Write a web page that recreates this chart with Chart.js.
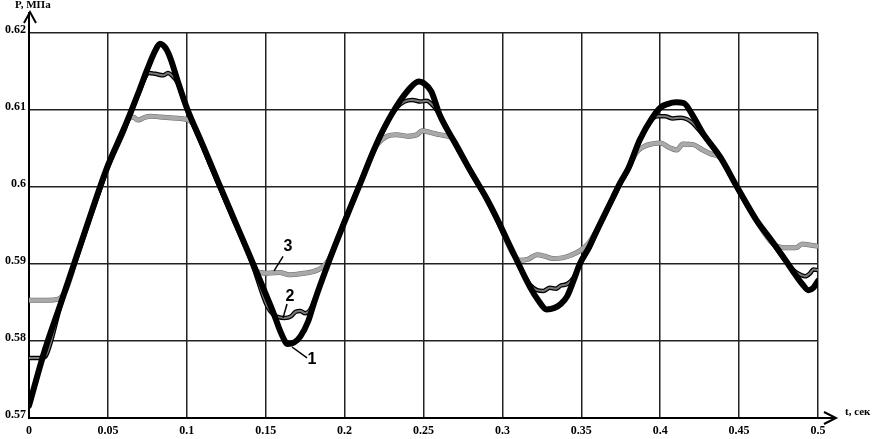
<!DOCTYPE html>
<html>
<head>
<meta charset="utf-8">
<script src="https://cdn.jsdelivr.net/npm/chart.js@4/dist/chart.umd.min.js"></script>
<style>
  body { margin: 0; background: #fff; }
  canvas { display: block; }
</style>
</head>
<body>
<canvas id="pressureChart" width="874" height="439"></canvas>
<script>
// curve 1 (thick black)
const t1 = [0,0.01,0.02,0.03,0.04,0.05,0.06,0.065,0.07,0.075,0.08,0.083,0.087,0.09,0.094,0.1,0.11,0.12,0.13,0.14,0.15,0.155,0.16,0.164,0.168,0.172,0.177,0.181,0.19,0.2,0.21,0.22,0.23,0.24,0.247,0.25,0.255,0.26,0.27,0.28,0.29,0.297,0.307,0.3175,0.323,0.328,0.333,0.337,0.341,0.345,0.349,0.355,0.36,0.37,0.3745,0.38,0.387,0.395,0.4,0.405,0.41,0.415,0.42,0.427,0.438,0.449,0.461,0.47,0.478,0.485,0.49,0.494,0.497,0.5];
const p1 = [0.5716,0.5788,0.5848,0.5909,0.5970,0.6028,0.6075,0.6100,0.6126,0.6153,0.6177,0.6186,0.6179,0.6165,0.6139,0.6103,0.6055,0.6006,0.5958,0.5910,0.5861,0.5836,0.5809,0.5796,0.5798,0.5806,0.5826,0.5852,0.5903,0.5955,0.6005,0.6055,0.6095,0.6125,0.6137,0.6135,0.6124,0.6095,0.6057,0.6020,0.5985,0.5957,0.5914,0.5870,0.5852,0.5841,0.5843,0.5848,0.5858,0.5878,0.5900,0.5922,0.5944,0.5986,0.6005,0.6025,0.6061,0.6090,0.6103,0.6108,0.6110,0.6109,0.6095,0.6070,0.6039,0.5999,0.5957,0.5932,0.5909,0.5888,0.5874,0.5866,0.5869,0.5878];

// curve 2 (dark grey)
const t2 = [0,0.008,0.011,0.02,0.03,0.04,0.05,0.06,0.065,0.07,0.073,0.076,0.08,0.085,0.088,0.091,0.094,0.1,0.11,0.12,0.13,0.14,0.151,0.155,0.158,0.162,0.166,0.169,0.172,0.175,0.178,0.181,0.19,0.2,0.21,0.22,0.228,0.233,0.238,0.243,0.248,0.252,0.255,0.259,0.27,0.28,0.29,0.297,0.307,0.314,0.318,0.322,0.326,0.33,0.334,0.337,0.341,0.345,0.349,0.355,0.36,0.37,0.3745,0.38,0.387,0.395,0.398,0.403,0.408,0.413,0.417,0.42,0.427,0.438,0.449,0.461,0.47,0.478,0.485,0.489,0.492,0.495,0.497,0.5];
const p2 = [0.5778,0.5778,0.5782,0.5846,0.5907,0.5968,0.6026,0.6073,0.6098,0.6124,0.6140,0.6148,0.6147,0.6145,0.6148,0.6144,0.6136,0.6101,0.6053,0.6004,0.5956,0.5909,0.5845,0.5834,0.5831,0.5830,0.5832,0.5838,0.5839,0.5836,0.5840,0.5853,0.5904,0.5956,0.6006,0.6054,0.6088,0.6103,0.6111,0.6113,0.6111,0.6112,0.6108,0.6098,0.6056,0.6019,0.5984,0.5956,0.5913,0.5885,0.5872,0.5866,0.5865,0.5869,0.5868,0.5872,0.5874,0.5882,0.5899,0.5921,0.5943,0.5985,0.6004,0.6024,0.6060,0.6088,0.6092,0.6092,0.6089,0.6090,0.6088,0.6084,0.6068,0.6038,0.5998,0.5956,0.5931,0.5908,0.5891,0.5886,0.5884,0.5888,0.5893,0.5892];

// curve 3 (light grey)
const t3 = [0,0.012,0.018,0.023,0.03,0.04,0.05,0.06,0.063,0.066,0.069,0.073,0.077,0.083,0.089,0.096,0.101,0.104,0.11,0.12,0.13,0.14,0.143,0.147,0.151,0.159,0.165,0.174,0.18,0.186,0.19,0.2,0.21,0.22,0.227,0.233,0.2395,0.246,0.249,0.254,0.26,0.265,0.268,0.275,0.28,0.29,0.297,0.303,0.307,0.311,0.316,0.322,0.327,0.332,0.338,0.343,0.349,0.355,0.36,0.37,0.38,0.385,0.39,0.395,0.4,0.406,0.4106,0.4144,0.421,0.427,0.432,0.438,0.449,0.461,0.4715,0.476,0.481,0.486,0.49,0.494,0.5];
const p3 = [0.5853,0.5853,0.5854,0.5864,0.5907,0.5968,0.6026,0.6072,0.6088,0.6091,0.6087,0.6090,0.6092,0.6091,0.6090,0.6089,0.6087,0.6082,0.6054,0.6005,0.5957,0.5909,0.5893,0.5889,0.5888,0.5889,0.5886,0.5888,0.5890,0.5896,0.5906,0.5956,0.6006,0.6053,0.6066,0.6068,0.6066,0.6068,0.6073,0.6071,0.6068,0.6066,0.6064,0.6040,0.6020,0.5985,0.5957,0.5928,0.5912,0.5905,0.5906,0.5912,0.5910,0.5907,0.5908,0.5911,0.5917,0.5928,0.5945,0.5986,0.6025,0.6045,0.6053,0.6056,0.6057,0.6051,0.6048,0.6056,0.6055,0.6048,0.6043,0.6038,0.5998,0.5956,0.5926,0.5922,0.5921,0.5921,0.5926,0.5925,0.5923];

const xTickLabels = ['0','0.05','0.1','0.15','0.2','0.25','0.3','0.35','0.4','0.45','0.5'];
const yTickLabels = ['0.57','0.58','0.59','0.6','0.61','0.62'];

const toPoints = (ts, ps) => ts.map((t, i) => ({ x: t, y: ps[i] }));
const tickFont = { family: 'Liberation Serif', size: 12, weight: 'bold' };

// arrows, axis titles and the numbered curve labels
const decor = {
  id: 'decor',
  afterDraw(chart) {
    const { ctx, chartArea: a, scales: { x, y } } = chart;
    ctx.save();
    ctx.strokeStyle = '#000';
    ctx.fillStyle = '#000';
    ctx.lineWidth = 2;

    // y axis arrow
    ctx.beginPath();
    ctx.moveTo(a.left, a.top);
    ctx.lineTo(a.left, 12);
    ctx.moveTo(a.left - 5, 23);
    ctx.lineTo(a.left + 1, 12);
    ctx.lineTo(a.left + 7, 23);
    ctx.stroke();

    // x axis arrow
    ctx.beginPath();
    ctx.moveTo(a.right, a.bottom);
    ctx.lineTo(836, a.bottom);
    ctx.moveTo(824, a.bottom - 6);
    ctx.lineTo(836, a.bottom);
    ctx.lineTo(824, a.bottom + 6);
    ctx.stroke();

    ctx.font = 'bold 11px "Liberation Serif"';
    ctx.textBaseline = 'top';
    ctx.textAlign = 'left';
    ctx.fillText('P, МПа', 15, 0);
    ctx.textBaseline = 'middle';
    ctx.fillText('t, сек', 845, 412);

    // numbered labels with leader lines
    const marks = [
      { txt: '1', tx: 0.1793, ty: 0.57753, x0: 0.1667, y0: 0.57922, x1: 0.1762, y1: 0.5778 },
      { txt: '2', tx: 0.1654, ty: 0.58571, x0: 0.1635, y0: 0.5848, x1: 0.161, y1: 0.5830 },
      { txt: '3', tx: 0.1641, ty: 0.5922, x0: 0.161, y0: 0.5910, x1: 0.1553, y1: 0.5891 }
    ];
    ctx.lineWidth = 1.5;
    ctx.font = 'bold 16px "Liberation Sans"';
    ctx.textAlign = 'center';
    marks.forEach(m => {
      ctx.beginPath();
      ctx.moveTo(x.getPixelForValue(m.x0), y.getPixelForValue(m.y0));
      ctx.lineTo(x.getPixelForValue(m.x1), y.getPixelForValue(m.y1));
      ctx.stroke();
      ctx.fillText(m.txt, x.getPixelForValue(m.tx), y.getPixelForValue(m.ty));
    });
    ctx.restore();
  }
};

const lineStyle = { pointRadius: 0, fill: false, cubicInterpolationMode: 'monotone', borderCapStyle: 'round', borderJoinStyle: 'round' };

new Chart(document.getElementById('pressureChart'), {
  type: 'line',
  data: {
    datasets: [
      Object.assign({ label: '1', data: toPoints(t1, p1), borderColor: '#000', borderWidth: 6, order: 0 }, lineStyle),
      Object.assign({ label: '2', data: toPoints(t2, p2), borderColor: '#7a7a7a', borderWidth: 2, order: 1 }, lineStyle),
      Object.assign({ label: '2 edge', data: toPoints(t2, p2), borderColor: '#000', borderWidth: 4.5, order: 2 }, lineStyle),
      Object.assign({ label: '3', data: toPoints(t3, p3), borderColor: '#a9a9a9', borderWidth: 4, order: 3 }, lineStyle),
      Object.assign({ label: '3 edge', data: toPoints(t3, p3), borderColor: '#6a6a6a', borderWidth: 5, order: 4 }, lineStyle)
    ]
  },
  options: {
    responsive: false,
    animation: false,
    devicePixelRatio: 1,
    layout: { padding: { top: 33, right: 56, left: 0, bottom: 0 } },
    plugins: { legend: { display: false }, tooltip: { enabled: false } },
    scales: {
      x: {
        type: 'linear',
        min: 0,
        max: 0.5,
        afterFit: s => { s.height = 21; },
        grid: { color: '#222', lineWidth: 1.5, drawTicks: false },
        border: { color: '#000', width: 2 },
        ticks: {
          stepSize: 0.05,
          padding: 6,
          color: '#000',
          font: tickFont,
          maxRotation: 0,
          callback: (v, i) => xTickLabels[i]
        }
      },
      y: {
        min: 0.57,
        max: 0.62,
        afterFit: s => { s.width = 29; },
        grid: { color: '#222', lineWidth: 1.5, drawTicks: false },
        border: { color: '#000', width: 2 },
        ticks: {
          stepSize: 0.01,
          padding: 3,
          labelOffset: -3,
          color: '#000',
          font: tickFont,
          callback: (v, i) => yTickLabels[i]
        }
      }
    }
  },
  plugins: [decor]
});
</script>
</body>
</html>
